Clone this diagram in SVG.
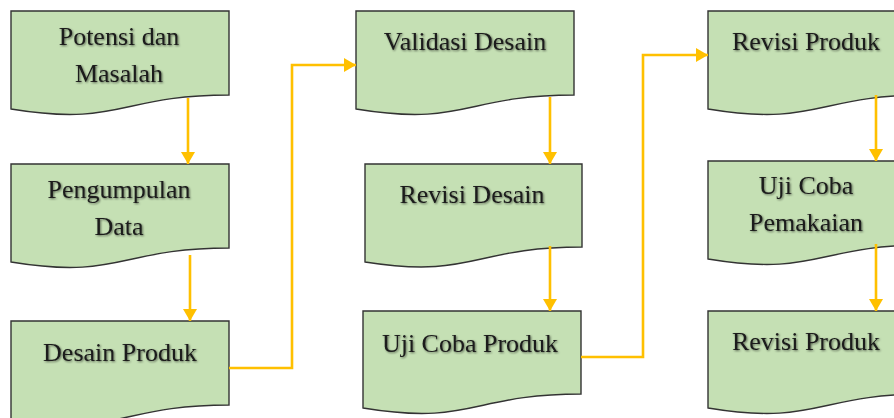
<svg xmlns="http://www.w3.org/2000/svg" width="894" height="418" viewBox="0 0 894 418">
  <defs>
    <style>
      .doc { fill: #c5e0b4; stroke: #333333; stroke-width: 1.4; }
      .lbl { font-family: "Liberation Serif", "Times New Roman", serif; font-size: 26px; fill: #1a1a1a; text-anchor: middle; filter: url(#txtShadow); }
      .link { fill: none; stroke: #ffc000; stroke-width: 2.6; marker-end: url(#arrow); }
    </style>
    <filter id="txtShadow" x="-10%" y="-30%" width="120%" height="160%">
      <feGaussianBlur in="SourceAlpha" stdDeviation="1.2" result="b"/>
      <feOffset in="b" dx="0.8" dy="0.8" result="o"/>
      <feComponentTransfer in="o" result="s">
        <feFuncA type="linear" slope="0.55"/>
      </feComponentTransfer>
      <feMerge>
        <feMergeNode in="s"/>
        <feMergeNode in="SourceGraphic"/>
      </feMerge>
    </filter>
    <marker id="arrow" markerUnits="userSpaceOnUse" markerWidth="14" markerHeight="14" viewBox="0 0 12 14" refX="12" refY="7" orient="auto">
      <path d="M0,0 L12,7 L0,14 Z" fill="#ffc000"/>
    </marker>
  </defs>

  <!-- column 1 -->
  <g id="potensi-masalah">
    <path class="doc" d="M11 11 H229 V95 C120 95 120 127 11 109 Z"/>
    <text class="lbl" x="119" y="45">Potensi dan</text>
    <text class="lbl" x="119" y="82">Masalah</text>
  </g>
  <g id="pengumpulan-data">
    <path class="doc" d="M11 164 H229 V248 C120 248 120 280 11 262 Z"/>
    <text class="lbl" x="119" y="198">Pengumpulan</text>
    <text class="lbl" x="119" y="235">Data</text>
  </g>
  <g id="desain-produk">
    <path class="doc" d="M11 321 H229 V405 C120 405 120 437 11 419 Z"/>
    <text class="lbl" x="120" y="361">Desain Produk</text>
  </g>

  <!-- column 2 -->
  <g id="validasi-desain">
    <path class="doc" d="M356 11 H574 V95 C465 95 465 127 356 109 Z"/>
    <text class="lbl" x="465" y="50">Validasi Desain</text>
  </g>
  <g id="revisi-desain">
    <path class="doc" d="M365 164 H582 V247 C473 247 473 279 365 262 Z"/>
    <text class="lbl" x="472" y="203">Revisi Desain</text>
  </g>
  <g id="uji-coba-produk">
    <path class="doc" d="M363 311 H581 V394 C472 394 472 426 363 408 Z"/>
    <text class="lbl" x="470" y="352">Uji Coba Produk</text>
  </g>

  <!-- column 3 -->
  <g id="revisi-produk-1">
    <path class="doc" d="M708 11 H926 V95 C817 95 817 127 708 109 Z"/>
    <text class="lbl" x="806" y="50">Revisi Produk</text>
  </g>
  <g id="uji-coba-pemakaian">
    <path class="doc" d="M708 161 H926 V245 C817 245 817 277 708 259 Z"/>
    <text class="lbl" x="806" y="194">Uji Coba</text>
    <text class="lbl" x="806" y="231">Pemakaian</text>
  </g>
  <g id="revisi-produk-2">
    <path class="doc" d="M708 311 H926 V394 C817 394 817 426 708 408 Z"/>
    <text class="lbl" x="806" y="350">Revisi Produk</text>
  </g>

  <!-- connectors -->
  <g id="connectors">
    <path class="link" d="M188 98 V164"/>
    <path class="link" d="M190 255 V321"/>
    <path class="link" d="M229 368 H292 V65 H356"/>
    <path class="link" d="M550 97 V164"/>
    <path class="link" d="M550 246 V311"/>
    <path class="link" d="M581 357 H643 V55 H708"/>
    <path class="link" d="M876 95 V161"/>
    <path class="link" d="M876 244 V311"/>
  </g>
</svg>
